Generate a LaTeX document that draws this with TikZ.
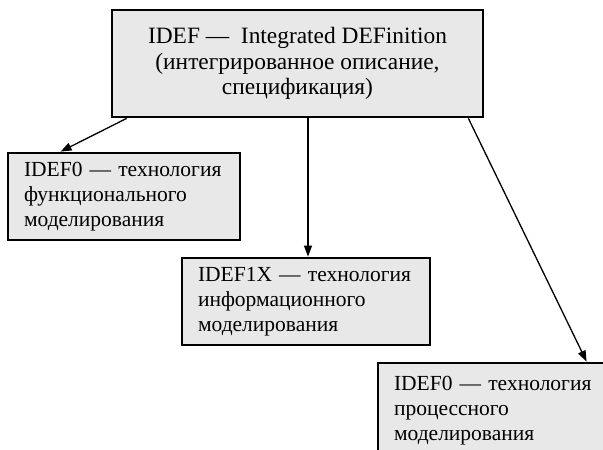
\documentclass[tikz,border=0pt]{standalone}
\usepackage{fontspec}
\setmainfont{Liberation Serif}
\usepackage{tikz}
\usetikzlibrary{arrows.meta}

\definecolor{boxgray}{HTML}{E8E8E8}

\tikzset{
    blok/.style={rectangle, draw, line width=2.8pt, fill=boxgray, inner xsep=16pt,
        align=left, font=\fontsize{21.5}{24.7}\selectfont},
    strelka/.style={-{Triangle[length=11pt,width=8pt]}, line width=1.3pt},
}

\begin{document}
\begin{tikzpicture}[x=1pt, y=-1pt]
    \useasboundingbox (0,0) rectangle (603,450);
    \clip (0,0) rectangle (603,450);

    \node[blok, align=center, font=\fontsize{23.4}{25.8}\selectfont, minimum width=371pt, minimum height=107pt]
        (idef) at (297.5,63.5) {IDEF ---\ \ Integrated DEFinition\\(интегрированное описание,\\спецификация)};
    \node[blok, text width=200pt, minimum height=87pt] (idefnol) at (124,196.5)
        {IDEF0 --- технология\\функционального\\моделирования};
    \node[blok, text width=216pt, minimum height=87pt] (idefix) at (306,301.5)
        {IDEF1X --- технология\\информационного\\моделирования};
    \node[blok, text width=203pt, minimum height=95pt] (idefproc) at (495.5,410.5)
        {IDEF0 --- технология\\процессного\\моделирования};

    \draw[strelka] ([xshift=16pt]idef.south west) -- ([xshift=54pt]idefnol.north west);
    \draw[strelka] ([xshift=10.5pt]idef.south) -- ([xshift=2pt]idefix.north);
    \draw[strelka] ([xshift=-16pt]idef.south east) -- ([xshift=210pt]idefproc.north west);
\end{tikzpicture}
\end{document}
